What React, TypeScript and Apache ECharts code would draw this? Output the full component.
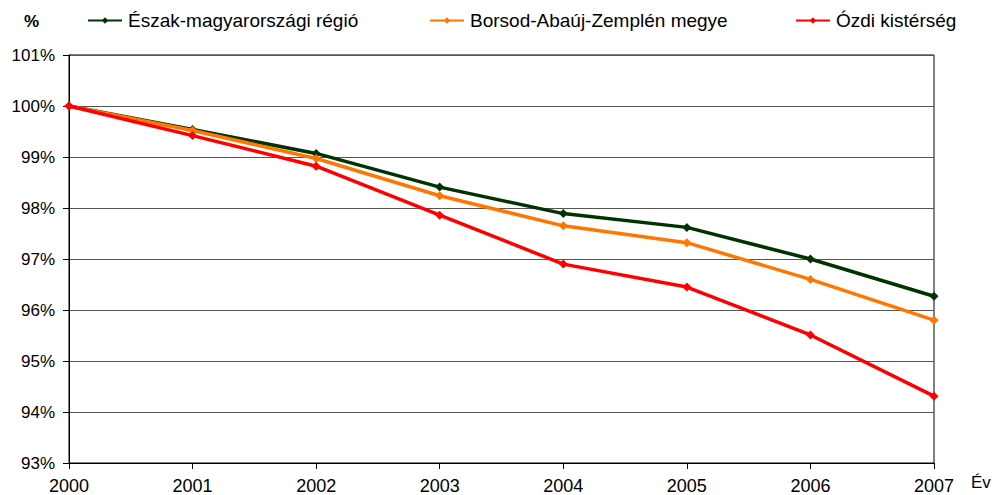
import React, { useEffect, useRef } from "react";
import * as echarts from "echarts";

const years = ["2000", "2001", "2002", "2003", "2004", "2005", "2006", "2007"];
const eszak = [100, 99.54, 99.07, 98.41, 97.89, 97.62, 97.0, 96.27];
const borsod = [100, 99.52, 98.97, 98.24, 97.65, 97.32, 96.6, 95.8];
const ozd = [100, 99.42, 98.82, 97.86, 96.9, 96.45, 95.51, 94.31];
const seriesNames = ["Észak-magyarországi régió", "Borsod-Abaúj-Zemplén megye", "Ózdi kistérség"];
const colors = ["#003300", "#FF7700", "#FF0000"];

export default function App() {
  const ref = useRef<HTMLDivElement>(null);
  useEffect(() => {
    if (!ref.current) return;
    const chart = echarts.init(ref.current, undefined, { renderer: "svg" });
    const font = "'Liberation Sans', Arial, sans-serif";
    const data = [eszak, borsod, ozd];
    const legendLefts = [87, 429, 795];
    chart.setOption({
      animation: false,
      textStyle: { fontFamily: font },
      grid: { left: 69, right: 61, top: 55, bottom: 32, show: true, borderColor: "#000", borderWidth: 1, backgroundColor: "transparent" },
      legend: seriesNames.map((n, i) => ({
        data: [n],
        left: legendLefts[i],
        top: 11,
        padding: 0,
        itemWidth: 34,
        itemHeight: 8,
        itemGap: 4,
        textStyle: { fontFamily: font, fontSize: 19, color: "#000", padding: [0, 0, 0, 1] },
      })),
      xAxis: {
        type: "category",
        data: years,
        boundaryGap: false,
        axisLine: { lineStyle: { color: "#000", width: 1 } },
        axisTick: { show: true, length: 6, lineStyle: { color: "#000" } },
        axisLabel: { color: "#000", fontSize: 18, margin: 14, fontFamily: font },
      },
      yAxis: {
        type: "value",
        min: 93,
        max: 101,
        interval: 1,
        axisLine: { show: true, lineStyle: { color: "#000", width: 1 } },
        axisTick: { show: true, length: 6, lineStyle: { color: "#000" } },
        axisLabel: { color: "#000", fontSize: 17, margin: 14, formatter: "{value}%", fontFamily: font },
        splitLine: { show: true, lineStyle: { color: "#555", width: 1 } },
      },
      graphic: [
        { type: "text", left: 24, top: 13, style: { text: "%", font: `bold 17px ${font}`, fill: "#000" } },
        { type: "text", left: 971, top: 474, style: { text: "Év", font: `17px ${font}`, fill: "#000" } },
      ],
      series: seriesNames.map((n, i) => ({
        name: n,
        type: "line",
        data: data[i],
        color: colors[i],
        symbol: "diamond",
        symbolSize: 9,
        lineStyle: { width: 3.5, color: colors[i] },
        itemStyle: { color: colors[i] },
        z: 2 + i,
      })),
    });
    return () => chart.dispose();
  }, []);
  return <div ref={ref} style={{ width: 995, height: 495, position: "absolute", left: 0, top: 0, background: "#fff" }} />;
}
